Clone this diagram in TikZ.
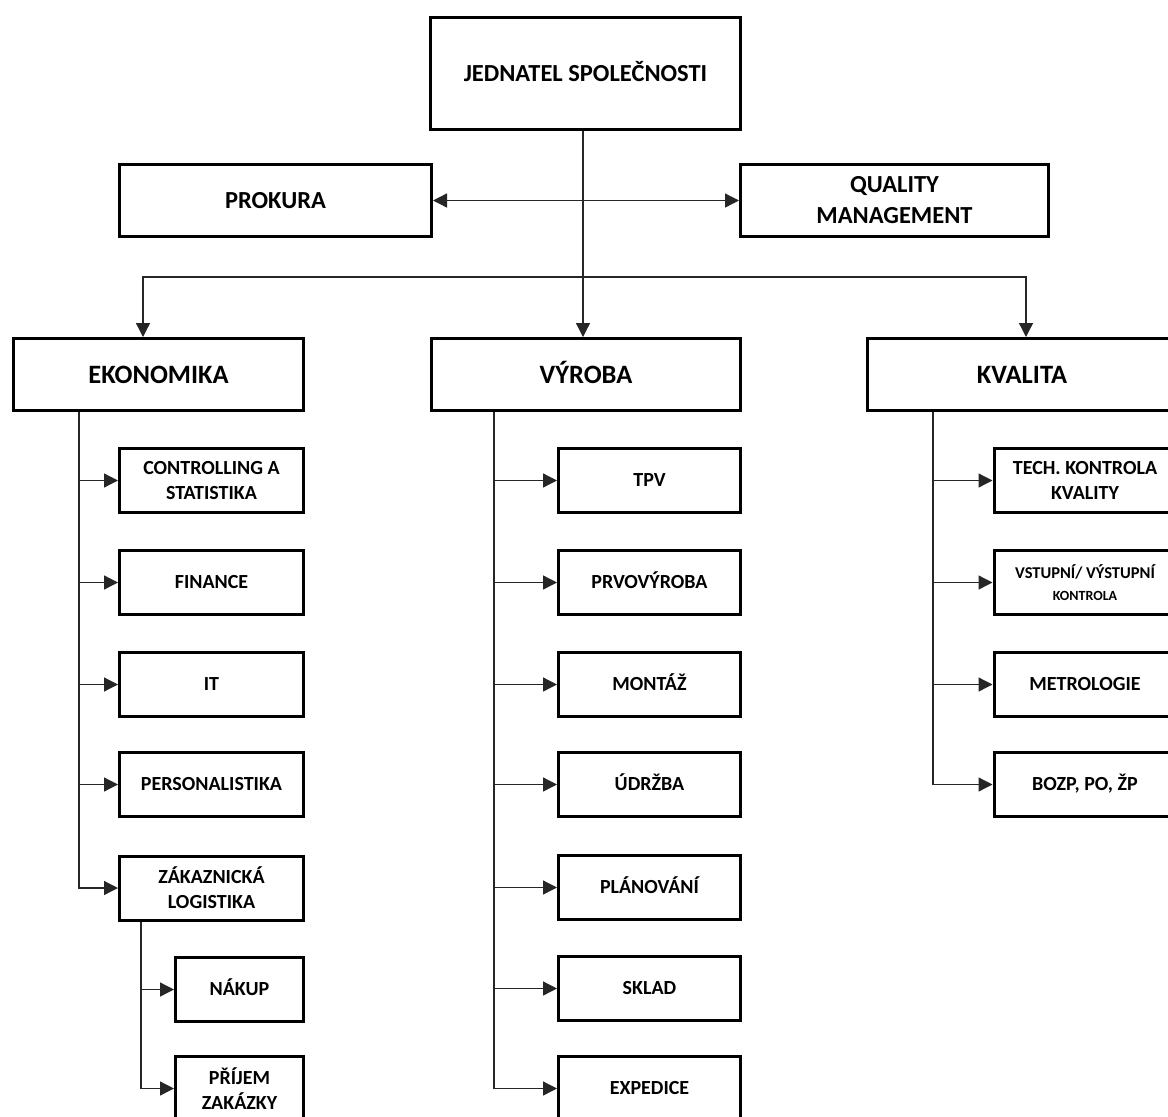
\documentclass[tikz,border=0pt]{standalone}
\usepackage{fontspec}
\setmainfont{Carlito}
\usetikzlibrary{arrows.meta}
\begin{document}
\begin{tikzpicture}[x=1pt,y=-1pt,
 box/.style={draw=black, line width=3pt, fill=white, align=center, inner sep=0pt},
 big/.style={box, font=\fontsize{24.5}{31}\selectfont\bfseries},
 head/.style={box, font=\fontsize{26.5}{32}\selectfont\bfseries, minimum height=72pt, text height=17.1pt, text depth=0pt},
 sub/.style={box, font=\fontsize{20}{25}\selectfont\bfseries, minimum height=64pt},
 sl/.style={text height=12.9pt, text depth=0pt},
 conn/.style={draw=black!85, line width=1.3pt},
 arr/.style={conn, -{Triangle[length=14pt,width=14pt]}},
 darr/.style={conn, {Triangle[length=14pt,width=14pt]}-{Triangle[length=14pt,width=14pt]}}
]
\useasboundingbox (0,0) rectangle (1168,1117);
\clip (0,0) rectangle (1168,1117);
\fill[white] (0,0) rectangle (1168,1117);

% top level
\node[big, minimum width=310pt, minimum height=112pt, text height=15.8pt, text depth=0pt] (jed) at (585.5,73.5) {JEDNATEL SPOLEČNOSTI};
\node[big, minimum width=312pt, minimum height=72pt] (prok) at (275.5,200.5) {PROKURA};
\node[big, minimum width=308pt, minimum height=72pt] (qual) at (894.5,200.5) {QUALITY\\MANAGEMENT};

% departments
\node[head, minimum width=290pt] (eko) at (158.5,374.5) {EKONOMIKA};
\node[head, minimum width=309pt] (vyr) at (586,374.5) {VÝROBA};
\node[head, minimum width=310pt] (kva) at (1022,374.5) {KVALITA};

% ekonomika children
\node[sub, minimum width=184pt] (e1) at (211.5,480.5) {CONTROLLING A\\STATISTIKA};
\node[sub, sl, minimum width=184pt] (e2) at (211.5,582.5) {FINANCE};
\node[sub, sl, minimum width=184pt] (e3) at (211.5,684.5) {IT};
\node[sub, sl, minimum width=184pt] (e4) at (211.5,784.5) {PERSONALISTIKA};
\node[sub, minimum width=184pt] (e5) at (211.5,888) {ZÁKAZNICKÁ\\LOGISTIKA};
\node[sub, sl, minimum width=128pt] (z1) at (239.5,989.5) {NÁKUP};
\node[sub, minimum width=128pt] (z2) at (239.5,1088.5) {PŘÍJEM\\ZAKÁZKY};

% vyroba children
\node[sub, sl, minimum width=182pt] (v1) at (649.5,480.5) {TPV};
\node[sub, sl, minimum width=182pt] (v2) at (649.5,582.5) {PRVOVÝROBA};
\node[sub, sl, minimum width=182pt] (v3) at (649.5,684.5) {MONTÁŽ};
\node[sub, sl, minimum width=182pt] (v4) at (649.5,784.5) {ÚDRŽBA};
\node[sub, sl, minimum width=182pt] (v5) at (649.5,887.5) {PLÁNOVÁNÍ};
\node[sub, sl, minimum width=182pt] (v6) at (649.5,988.5) {SKLAD};
\node[sub, sl, minimum width=182pt] (v7) at (649.5,1088.5) {EXPEDICE};

% kvalita children
\node[sub, minimum width=182pt] (k1) at (1085,480.5) {TECH. KONTROLA\\KVALITY};
\node[sub, minimum width=182pt, font=\fontsize{16.5}{22}\selectfont\bfseries] (k2) at (1085,582.5) {VSTUPNÍ/ VÝSTUPNÍ\\{\fontsize{14}{22}\selectfont KONTROLA}};
\node[sub, sl, minimum width=182pt] (k3) at (1085,684.5) {METROLOGIE};
\node[sub, sl, minimum width=182pt] (k4) at (1085,784.5) {BOZP, PO, ŽP};

% connectors top
\coordinate (bus) at (583,277);
\draw[conn] (jed.south -| bus) -- (bus);
\draw[darr] (prok.east) -- (qual.west);
\draw[arr] (bus) -- (bus |- vyr.north);
\draw[arr] (bus) -| ([xshift=-15.5pt]eko.north);
\draw[arr] (bus) -| ([xshift=4pt]kva.north);

% spines
\coordinate (es) at ([xshift=-79.5pt]eko.south);
\coordinate (vs) at ([xshift=-92pt]vyr.south);
\coordinate (ks) at ([xshift=-89pt]kva.south);
\coordinate (zs) at ([xshift=-70.5pt]e5.south);
\foreach \n in {e1,e2,e3,e4,e5} \draw[arr] (es) |- (\n.west);
\foreach \n in {v1,v2,v3,v4,v5,v6,v7} \draw[arr] (vs) |- (\n.west);
\foreach \n in {k1,k2,k3,k4} \draw[arr] (ks) |- (\n.west);
\foreach \n in {z1,z2} \draw[arr] (zs) |- (\n.west);
\end{tikzpicture}
\end{document}
